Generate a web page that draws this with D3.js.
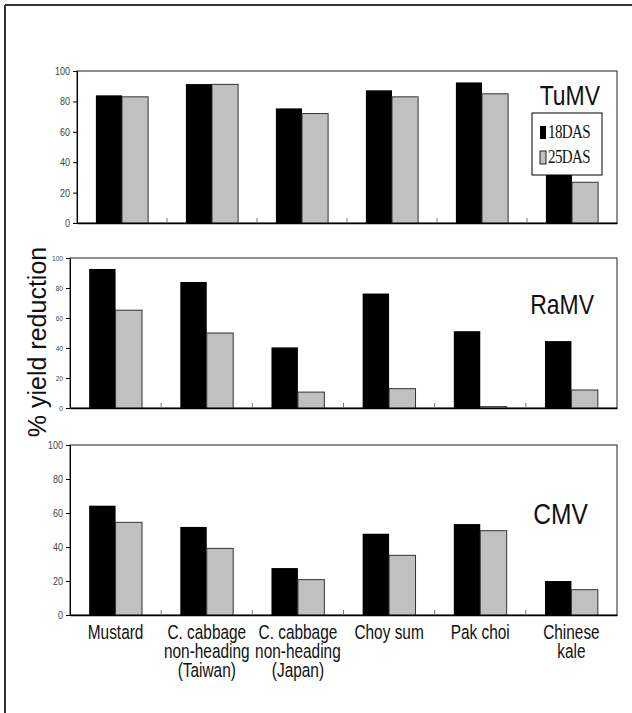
<!DOCTYPE html>
<html>
<head>
<meta charset="utf-8">
<script src="https://cdn.jsdelivr.net/npm/d3@7/dist/d3.min.js"></script>
<style>
  html, body { margin: 0; padding: 0; background: #fff; }
  svg { display: block; }
</style>
</head>
<body>
<div id="chart"></div>
<script>
// Crop names, one line per label row
const categories = [
  ["Mustard"],
  ["C. cabbage", "non-heading", "(Taiwan)"],
  ["C. cabbage", "non-heading", "(Japan)"],
  ["Choy sum"],
  ["Pak choi"],
  ["Chinese", "kale"]
];
const seriesNames = ["18DAS", "25DAS"];
const yTicks = [0, 20, 40, 60, 80, 100];

// % yield reduction for plants inoculated 18 and 25 days after sowing
const tumv18 = [84, 91.4, 75.4, 87.3, 92.5, 35];
const tumv25 = [83, 91.2, 72, 83, 85, 26.8];
const ramv18 = [92.7, 84, 40.4, 76.3, 51.2, 44.6];
const ramv25 = [65.2, 50, 10.6, 12.9, 0.9, 12];
const cmv18 = [64.3, 51.8, 27.6, 47.8, 53.5, 20];
const cmv25 = [54.5, 39.2, 20.8, 35.1, 49.6, 14.9];
const virusNames = ["TuMV", "RaMV", "CMV"];

const W = 632, H = 713;
const SANS = "'Liberation Sans', Arial, sans-serif";
const SERIF = "'Liberation Serif', 'Times New Roman', serif";

const svg = d3.select("#chart").append("svg")
  .attr("width", W).attr("height", H);

// tall, condensed-looking text: a smaller font stretched vertically
function narrowText(parent, x, y, lines, size, anchor, fill, lineGap, ratio) {
  const r = ratio || 0.82;
  const g = parent.append("g")
    .attr("transform", `translate(${x},${y}) scale(1,${1 / r})`);
  const t = g.append("text").attr("text-anchor", anchor)
    .attr("font-family", SANS).attr("font-size", size * r).attr("fill", fill);
  t.selectAll("tspan").data(lines).join("tspan")
    .attr("x", 0).attr("y", (d, k) => k * (lineGap || 0) * r).text(d => d);
  return g;
}

// outer frame (top and left edges)
svg.append("line").attr("x1", 5).attr("y1", 5).attr("x2", W).attr("y2", 5)
  .attr("stroke", "#333").attr("stroke-width", 2);
svg.append("line").attr("x1", 5).attr("y1", 5).attr("x2", 5).attr("y2", H)
  .attr("stroke", "#333").attr("stroke-width", 2);

const panels = [
  { name: virusNames[0], s18: tumv18, s25: tumv25, x0: 77, x1: 617, y0: 71, y1: 223,
    tickSize: 11, title: { x: 600, y: 105, size: 28 } },
  { name: virusNames[1], s18: ramv18, s25: ramv25, x0: 70, x1: 617, y0: 258, y1: 408,
    tickSize: 8, title: { x: 594, y: 314, size: 28 } },
  { name: virusNames[2], s18: cmv18, s25: cmv25, x0: 70, x1: 617, y0: 445, y1: 615,
    tickSize: 11, title: { x: 588, y: 524, size: 30 } }
];

panels.forEach((p, pi) => {
  const g = svg.append("g");
  const x = d3.scaleBand().domain(d3.range(categories.length)).range([p.x0, p.x1]);
  const y = d3.scaleLinear().domain([0, 100]).range([p.y1, p.y0]);
  const bw = x.bandwidth() * 0.29;

  // plot frame
  g.append("rect").attr("x", p.x0).attr("y", p.y0)
    .attr("width", p.x1 - p.x0).attr("height", p.y1 - p.y0)
    .attr("fill", "none").attr("stroke", "#222").attr("stroke-width", 1);

  // bars
  const rows = d3.range(categories.length).map(i => ({ i, a: p.s18[i], b: p.s25[i] }));
  g.selectAll("rect.b18").data(rows).join("rect").attr("class", "b18")
    .attr("x", d => x(d.i) + x.bandwidth() / 2 - bw)
    .attr("y", d => y(d.a)).attr("width", bw).attr("height", d => y(0) - y(d.a))
    .attr("fill", "#000");
  g.selectAll("rect.b25").data(rows).join("rect").attr("class", "b25")
    .attr("x", d => x(d.i) + x.bandwidth() / 2)
    .attr("y", d => y(d.b)).attr("width", bw).attr("height", d => y(0) - y(d.b))
    .attr("fill", "#c0c0c0").attr("stroke", "#333").attr("stroke-width", 1);

  // y axis: line and outward ticks from the axis generator, condensed labels
  const ya = g.append("g").attr("transform", `translate(${p.x0},0)`)
    .call(d3.axisLeft(y).tickValues(yTicks).tickSize(4).tickFormat(""));
  ya.select(".domain").attr("stroke", "#000");
  ya.selectAll(".tick line").attr("stroke", "#000");
  yTicks.forEach(v => {
    narrowText(g, p.x0 - 7, y(v) + p.tickSize * 0.36, [String(v)], p.tickSize, "end", "#444");
  });

  // x axis with inward ticks at category boundaries
  const xa = g.append("g").attr("transform", `translate(0,${p.y1})`)
    .call(d3.axisBottom(x).tickSize(0).tickFormat(""));
  xa.select(".domain").attr("stroke", "#000").attr("stroke-width", 1.5);
  g.selectAll("line.sep").data(d3.range(1, categories.length)).join("line")
    .attr("class", "sep")
    .attr("x1", i => x(i)).attr("x2", i => x(i))
    .attr("y1", p.y1).attr("y2", p.y1 - 5)
    .attr("stroke", "#777").attr("stroke-width", 1);

  // virus name
  narrowText(g, p.title.x, p.title.y, [p.name], p.title.size, "end", "#111");

  // category labels under the last panel
  if (pi === panels.length - 1) {
    categories.forEach((lines, i) => {
      narrowText(g, x(i) + x.bandwidth() / 2, 639, lines, 19.5, "middle", "#111", 19, 0.79);
    });
  }

  // legend in the first panel
  if (pi === 0) {
    const lg = g.append("g");
    lg.append("rect").attr("x", 532).attr("y", 113).attr("width", 70).attr("height", 62)
      .attr("fill", "#fff").attr("stroke", "#000").attr("stroke-width", 1);
    const fills = ["#000", "#c0c0c0"];
    seriesNames.forEach((s, k) => {
      lg.append("rect").attr("x", 540).attr("y", 126 + k * 25).attr("width", 6).attr("height", 13)
        .attr("fill", fills[k]).attr("stroke", "#222").attr("stroke-width", k ? 1 : 0);
      lg.append("text").attr("transform", `translate(548,${138 + k * 25}) scale(1,1.3)`)
        .attr("font-family", SERIF).attr("font-size", 15).attr("letter-spacing", -0.6)
        .attr("fill", "#111").text(s);
    });
  }
});

// shared y axis title
svg.append("text")
  .attr("transform", "translate(46,342) rotate(-90)")
  .attr("text-anchor", "middle").attr("font-family", SANS).attr("font-size", 25)
  .attr("fill", "#111").text("% yield reduction");
</script>
</body>
</html>
